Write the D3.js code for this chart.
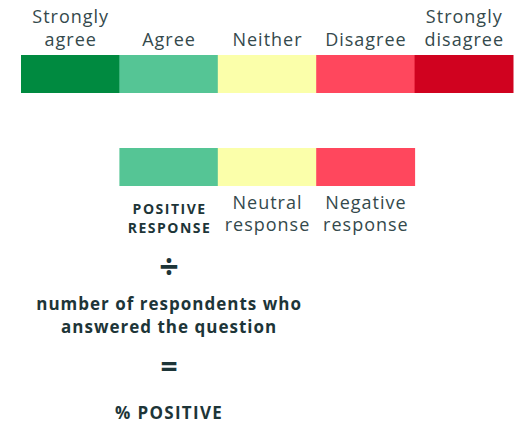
<!DOCTYPE html>
<html>
<head>
<meta charset="utf-8">
<script src="https://cdn.jsdelivr.net/npm/d3@7"></script>
<style>
  body { margin: 0; background: #fff; }
  svg text { font-family: "Open Sans", sans-serif; }
</style>
</head>
<body>
<svg width="515" height="423"></svg>
<script>
    // Antwortskala
    const categories = ["Strongly agree", "Agree", "Neither", "Disagree", "Strongly disagree"];
    const labelLines = [["Strongly", "agree"], ["Agree"], ["Neither"], ["Disagree"], ["Strongly", "disagree"]];
    const colors = ["#008a40", "#55c595", "#fbffaa", "#ff475d", "#d0021f"];

    // zusammengefasste Antworten
    const groups = ["Agree", "Neither", "Disagree"];
    const groupLines = [["POSITIVE", "RESPONSE"], ["Neutral", "response"], ["Negative", "response"]];
    const groupBold = [true, false, false];

    const formula = ["÷", "number of respondents who|answered the question", "=", "% POSITIVE"];

    const svg = d3.select("svg");
    const textColor = "#34494c";
    const boldColor = "#1d3538";

    const x = d3.scaleBand()
      .domain(categories)
      .range([21, 513])
      .padding(0);

    const color = d3.scaleOrdinal().domain(categories).range(colors);

    // obere Leiste
    svg.selectAll("rect.top")
      .data(categories)
      .enter()
      .append("rect")
      .attr("class", "top")
      .attr("x", d => x(d))
      .attr("y", 55)
      .attr("width", x.bandwidth() + 0.5)
      .attr("height", 38)
      .attr("fill", d => color(d));

    const topLabels = svg.selectAll("text.top")
      .data(categories)
      .enter()
      .append("text")
      .attr("class", "top")
      .attr("text-anchor", "middle")
      .attr("fill", textColor)
      .style("font-size", "18px")
      .style("letter-spacing", "1px");

    topLabels.each(function(d, i) {
      const lines = labelLines[i];
      const t = d3.select(this);
      lines.forEach((l, j) => {
        t.append("tspan")
          .attr("x", x(d) + x.bandwidth() / 2 + 0.5)
          .attr("y", 46 - (lines.length - 1 - j) * 23)
          .text(l);
      });
    });

    // untere Leiste
    svg.selectAll("rect.bottom")
      .data(groups)
      .enter()
      .append("rect")
      .attr("class", "bottom")
      .attr("x", d => x(d))
      .attr("y", 148)
      .attr("width", x.bandwidth() + 0.5)
      .attr("height", 38)
      .attr("fill", d => color(d));

    groups.forEach((g, i) => {
      const bold = groupBold[i];
      groupLines[i].forEach((l, j) => {
        svg.append("text")
          .attr("text-anchor", "middle")
          .attr("fill", bold ? boldColor : textColor)
          .style("font-size", bold ? "14px" : "18px")
          .style("font-weight", bold ? 700 : 400)
          .style("letter-spacing", bold ? "1.5px" : "1px")
          .attr("x", x(g) + x.bandwidth() / 2 + (bold ? 1 : 0.5))
          .attr("y", bold ? 214 + j * 19 : 209 + j * 22)
          .text(l);
      });
    });

    // Formel
    const cx = x("Agree") + x.bandwidth() / 2 + 0.5;

    svg.append("text")
      .attr("x", cx).attr("y", 279)
      .attr("text-anchor", "middle")
      .attr("fill", boldColor)
      .style("font-size", "34px")
      .style("font-weight", 700)
      .text(formula[0]);

    const mid = svg.append("text")
      .attr("text-anchor", "middle")
      .attr("fill", boldColor)
      .style("font-size", "17px")
      .style("font-weight", 700)
      .style("letter-spacing", "1px");
    formula[1].split("|").forEach((l, j) => {
      mid.append("tspan").attr("x", cx).attr("y", 310 + j * 23).text(l);
    });

    svg.append("text")
      .attr("x", cx).attr("y", 377)
      .attr("text-anchor", "middle")
      .attr("fill", boldColor)
      .style("font-size", "30px")
      .style("font-weight", 700)
      .text(formula[2]);

    svg.append("text")
      .attr("x", cx).attr("y", 419)
      .attr("text-anchor", "middle")
      .attr("fill", boldColor)
      .style("font-size", "17px")
      .style("font-weight", 700)
      .style("letter-spacing", "1.3px")
      .text(formula[3]);
</script>
</body>
</html>
